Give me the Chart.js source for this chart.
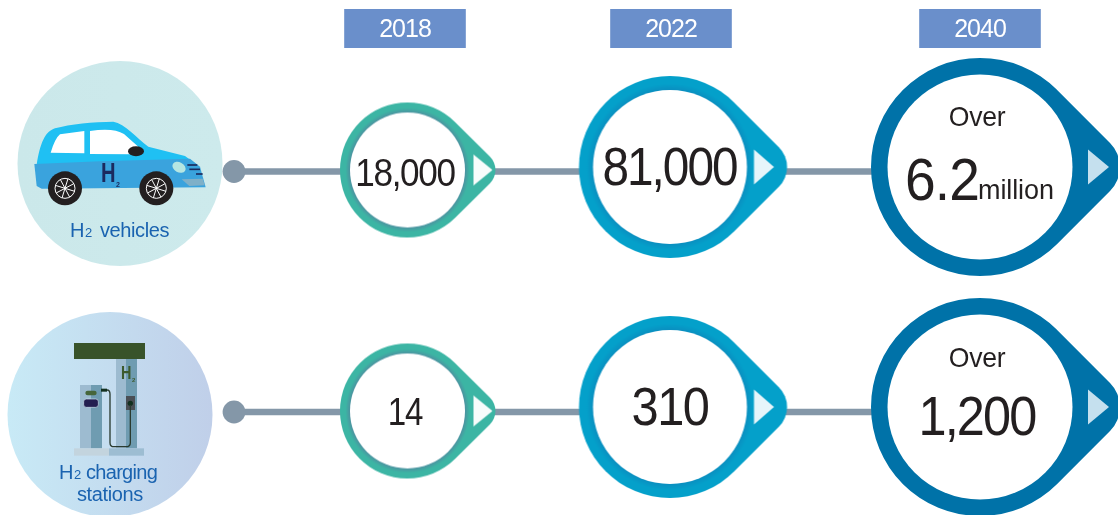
<!DOCTYPE html>
<html>
<head>
<meta charset="utf-8">
<style>
	html, body { margin: 0; padding: 0; background: #fff; }
	canvas { display: block; }
</style>
<script src="https://cdn.jsdelivr.net/npm/chart.js@4/dist/chart.umd.js"></script>
</head>
<body>
<canvas id="chart" width="1118" height="515"></canvas>
<script>
const years = ['2018', '2022', '2040'];
const rowNames = ['H2 vehicles', 'H2 charging stations'];
const vehicles = [18000, 81000, 6200000];
const stations = [14, 310, 1200];
const overFlags = [false, false, true];

// layout only: where the columns sit across the width (start dot, then one per year)
const columnStops = [234, 405, 671, 980].map(px => px / 1118);
const FONT = '"Liberation Sans", Arial, sans-serif';

// custom spacing for the category axis, the years are not evenly spaced
class ColumnScale extends Chart.CategoryScale {
	static id = 'column';
	getPixelForValue(value) {
		const i = typeof value === 'number' ? value : this.parse(value);
		return this.getPixelForDecimal(columnStops[i]);
	}
}
Chart.register(ColumnScale);

function makeRing(s) {
	const tip = s.apex - s.round * 0.414;
	const c = document.createElement('canvas');
	c.width = Math.ceil(2 * (tip + Math.abs(s.dx)) + 6);
	c.height = Math.ceil(2 * (s.outer + Math.abs(s.dy) + 3));
	const g = c.getContext('2d');
	g.translate(c.width / 2 + s.dx, c.height / 2 + s.dy);
	const a = Math.acos(s.outer / s.apex);
	const grad = g.createRadialGradient(0, 0, s.inner, 0, 0, s.outer);
	grad.addColorStop(0, s.edge);
	grad.addColorStop(0.45, s.color);
	grad.addColorStop(1, s.color);
	g.fillStyle = grad;
	g.beginPath();
	g.arc(0, 0, s.outer, a, 2 * Math.PI - a);
	g.arcTo(s.apex, 0, s.outer * Math.cos(a), s.outer * Math.sin(a), s.round);
	g.closePath();
	g.fill();
	g.fillStyle = '#fff';
	g.beginPath();
	g.arc(0, 0, s.inner, 0, 2 * Math.PI);
	g.fill();
	g.fillStyle = s.arrow;
	g.beginPath();
	g.moveTo(s.arrowX, -s.arrowH);
	g.lineTo(s.arrowX + s.arrowW, 0);
	g.lineTo(s.arrowX, s.arrowH);
	g.closePath();
	g.fill();
	return c;
}

const ringStyles = [
	[
		{ outer: 67.5, inner: 57.5, apex: 96, round: 19, dx: 2.5, dy: -1.5, color: '#3cb5a4', edge: '#4c93a0', arrow: '#f7fcfb', arrowX: 66, arrowW: 19, arrowH: 15.5 },
		{ outer: 91, inner: 77, apex: 128.7, round: 28, dx: -1, dy: -4.5, color: '#04a0ca', edge: '#0a8fc0', arrow: '#e6f5fa', arrowX: 84, arrowW: 20, arrowH: 17.5 },
		{ outer: 109, inner: 92.5, apex: 154, round: 34, dx: 0, dy: -4.5, color: '#0072a8', edge: '#0072a8', arrow: '#c5e0ee', arrowX: 108, arrowW: 21, arrowH: 17.5 }
	],
	[
		{ outer: 67.5, inner: 57.5, apex: 96, round: 19, dx: 2.5, dy: -1, color: '#3cb5a4', edge: '#4c93a0', arrow: '#f7fcfb', arrowX: 66, arrowW: 19, arrowH: 15.5 },
		{ outer: 91, inner: 77, apex: 128.7, round: 28, dx: -1, dy: -5, color: '#04a0ca', edge: '#0a8fc0', arrow: '#e6f5fa', arrowX: 84, arrowW: 20, arrowH: 17.5 },
		{ outer: 109, inner: 92.5, apex: 154, round: 34, dx: 0, dy: -5, color: '#0072a8', edge: '#0072a8', arrow: '#c5e0ee', arrowX: 108, arrowW: 21, arrowH: 17.5 }
	]
];

// text sizes inside the rings, per row and year
const textStyles = [
	[
		{ size: 39, squeeze: 0.9, spacing: -1.5, dx: 0, dy: 14.5 },
		{ size: 53, squeeze: 0.9, spacing: -2.2, dx: -1.5, dy: 13.5 },
		{ size: 60, squeeze: 0.92, spacing: -1, dx: 0, dy: 28.5, overDy: -45.5, unitSize: 27 }
	],
	[
		{ size: 39, squeeze: 0.85, spacing: -1.5, dx: 0, dy: 13 },
		{ size: 53, squeeze: 0.92, spacing: -1.5, dx: -1, dy: 13 },
		{ size: 56, squeeze: 0.9, spacing: -2, dx: -3, dy: 23, overDy: -45 }
	]
];

function rowData(row) {
	return ['', ...years].map(x => ({ x, y: row }));
}

function rowDataset(row, r) {
	return {
		data: rowData(row),
		borderColor: '#8497a8',
		borderWidth: 6.5,
		pointRadius: 11.4,
		pointBackgroundColor: '#8497a8',
		pointBorderWidth: 0,
		pointStyle: ['circle', ...ringStyles[r].map(makeRing)],
		tension: 0,
		clip: false
	};
}

function text(ctx, str, x, y, font, color, align, spacing, squeeze) {
	ctx.save();
	ctx.translate(x, y);
	ctx.scale(squeeze || 1, 1);
	ctx.font = font;
	ctx.fillStyle = color;
	ctx.textAlign = align;
	ctx.letterSpacing = (spacing || 0) + 'px';
	ctx.fillText(str, 0, 0);
	ctx.letterSpacing = '0px';
	ctx.restore();
}

function drawCar(ctx) {
	ctx.save();
	ctx.translate(0, 50);
	ctx.scale(1 / 3, 1 / 3);
	ctx.fillStyle = '#1fc0f3';
	ctx.beginPath();
	ctx.moveTo(110, 345);
	ctx.bezierCurveTo(120, 280, 135, 245, 165, 235);
	ctx.bezierCurveTo(210, 222, 280, 216, 340, 215);
	ctx.bezierCurveTo(375, 220, 410, 265, 445, 290);
	ctx.lineTo(555, 318);
	ctx.lineTo(592, 345);
	ctx.closePath();
	ctx.fill();
	ctx.fillStyle = '#3aa3dd';
	ctx.beginPath();
	ctx.moveTo(103, 342);
	ctx.lineTo(300, 334);
	ctx.lineTo(570, 326);
	ctx.lineTo(600, 350);
	ctx.lineTo(617, 412);
	ctx.lineTo(125, 416);
	ctx.lineTo(110, 408);
	ctx.closePath();
	ctx.fill();
	ctx.fillStyle = '#fff';
	ctx.beginPath();
	ctx.moveTo(152, 308);
	ctx.quadraticCurveTo(165, 265, 180, 253);
	ctx.lineTo(253, 243);
	ctx.lineTo(253, 310);
	ctx.closePath();
	ctx.moveTo(270, 243);
	ctx.quadraticCurveTo(340, 232, 372, 252);
	ctx.lineTo(415, 290);
	ctx.lineTo(395, 313);
	ctx.lineTo(270, 312);
	ctx.closePath();
	ctx.fill();
	ctx.fillStyle = '#231f20';
	ctx.beginPath();
	ctx.ellipse(408, 304, 24, 15, 0, 0, 2 * Math.PI);
	ctx.fill();
	// headlight, grille, bumper
	ctx.fillStyle = '#b6e6e2';
	ctx.beginPath();
	ctx.ellipse(537, 352, 21, 15, 0.5, 0, 2 * Math.PI);
	ctx.fill();
	ctx.strokeStyle = '#1b2a5e';
	ctx.lineWidth = 5;
	[[562, 345, 592], [568, 358, 600], [588, 372, 608]].forEach(([a, y, b]) => {
		ctx.beginPath();
		ctx.moveTo(a, y);
		ctx.lineTo(b, y);
		ctx.stroke();
	});
	ctx.fillStyle = '#7fb0c8';
	ctx.beginPath();
	ctx.moveTo(545, 388);
	ctx.lineTo(608, 386);
	ctx.lineTo(614, 406);
	ctx.lineTo(568, 408);
	ctx.closePath();
	ctx.fill();
	// wheels
	[195, 469].forEach(cx => {
		ctx.fillStyle = '#231f20';
		ctx.beginPath();
		ctx.arc(cx, 415, 51, 0, 2 * Math.PI);
		ctx.fill();
		ctx.strokeStyle = '#fff';
		ctx.lineWidth = 3;
		ctx.beginPath();
		ctx.arc(cx, 415, 30, 0, 2 * Math.PI);
		ctx.stroke();
		for (let i = 0; i < 4; i++) {
			const a = i * Math.PI / 4 + 0.3;
			ctx.beginPath();
			ctx.moveTo(cx - 30 * Math.cos(a), 415 - 30 * Math.sin(a));
			ctx.lineTo(cx + 30 * Math.cos(a), 415 + 30 * Math.sin(a));
			ctx.stroke();
		}
	});
	ctx.restore();
	text(ctx, 'H', 101, 182, 'bold 28px ' + FONT, '#1b2a5e', 'left', 0, 0.72);
	text(ctx, '2', 116, 187, 'bold 7px ' + FONT, '#1b2a5e', 'left');
}

function drawStation(ctx) {
	ctx.save();
	ctx.translate(0, 290);
	ctx.scale(1 / 3, 1 / 3);
	const rect = (c, x, y, w, h) => {
		ctx.fillStyle = c;
		ctx.fillRect(x, y, w, h);
	};
	rect('#9dbbd0', 348, 207, 30, 268);
	rect('#6f9cb1', 378, 207, 33, 268);
	rect('#38532a', 222, 159, 213, 48);
	rect('#9dbbd0', 240, 285, 33, 190);
	rect('#6f9cb1', 273, 285, 33, 190);
	rect('#c3d4de', 222, 475, 105, 22);
	rect('#9dbdd2', 327, 475, 105, 22);
	rect('#4a4f55', 378, 318, 27, 42);
	ctx.fillStyle = '#12301f';
	ctx.beginPath();
	ctx.arc(391, 340, 8, 0, 2 * Math.PI);
	ctx.fill();
	ctx.fillStyle = '#46663a';
	ctx.beginPath();
	ctx.roundRect(256, 302, 34, 14, 7);
	ctx.fill();
	ctx.fillStyle = '#231f50';
	ctx.strokeStyle = '#cfe2ee';
	ctx.lineWidth = 2;
	ctx.beginPath();
	ctx.roundRect(251, 327, 44, 25, 8);
	ctx.fill();
	ctx.stroke();
	rect('#12301f', 303, 296, 18, 9);
	ctx.strokeStyle = '#2a3b30';
	ctx.lineWidth = 4;
	ctx.beginPath();
	ctx.moveTo(321, 300);
	ctx.quadraticCurveTo(330, 300, 330, 312);
	ctx.lineTo(330, 458);
	ctx.quadraticCurveTo(330, 470, 342, 470);
	ctx.lineTo(378, 470);
	ctx.quadraticCurveTo(391, 470, 391, 458);
	ctx.lineTo(391, 345);
	ctx.stroke();
	ctx.restore();
	text(ctx, 'H', 121, 379, 'bold 18px ' + FONT, '#3c5a2d', 'left', 0, 0.8);
	text(ctx, '2', 132, 382, 'bold 6px ' + FONT, '#3c5a2d', 'left');
}

function drawBadge(ctx, cx, cy, stops) {
	const g = ctx.createLinearGradient(cx - 102.5, 0, cx + 102.5, 0);
	g.addColorStop(0, stops[0]);
	g.addColorStop(1, stops[1]);
	ctx.fillStyle = g;
	ctx.beginPath();
	ctx.arc(cx, cy, 102.5, 0, 2 * Math.PI);
	ctx.fill();
}

// row name with the small 2 after H, broken into the lines of the picture
function drawRowName(ctx, name, lines) {
	const parts = name.split(' ');
	const blue = '#1a63b0';
	lines.forEach(l => {
		const words = parts.slice(l.from, l.to);
		let str = words.join(' ');
		let x = l.x;
		if (str.startsWith('H2')) {
			text(ctx, 'H', x, l.y, '20px ' + FONT, blue, 'left', -0.3);
			x += 15;
			text(ctx, '2', x, l.y, '13px ' + FONT, blue, 'left');
			x += l.gap;
			str = str.slice(3);
		}
		text(ctx, str, x, l.y, '20px ' + FONT, blue, 'left', l.spacing);
	});
}

const stagePlugin = {
	id: 'stage',
	beforeDraw(chart) {
		chart.ctx.letterSpacing = '-1px';
	},
	beforeDatasetsDraw(chart) {
		const ctx = chart.ctx;
		ctx.letterSpacing = '0px';
		ctx.save();
		ctx.textBaseline = 'alphabetic';
		drawBadge(ctx, 120, 163.5, ['#cbe8ea', '#cdeaec']);
		drawBadge(ctx, 110, 414.5, ['#c8eaf6', '#c0cfe9']);
		drawCar(ctx);
		drawStation(ctx);
		drawRowName(ctx, rowNames[0], [{ from: 0, to: 2, x: 70, y: 237, gap: 15, spacing: -0.4 }]);
		drawRowName(ctx, rowNames[1], [
			{ from: 0, to: 2, x: 59, y: 479, gap: 12, spacing: -0.7 },
			{ from: 2, to: 3, x: 77, y: 501, gap: 0, spacing: -0.4 }
		]);
		ctx.restore();
	},
	afterDatasetsDraw(chart) {
		const ctx = chart.ctx;
		ctx.save();
		ctx.textBaseline = 'alphabetic';
		[vehicles, stations].forEach((values, r) => {
			const points = chart.getDatasetMeta(r).data;
			values.forEach((v, i) => {
				const p = points[i + 1];
				const s = textStyles[r][i];
				const x = p.x + s.dx;
				const y = p.y + s.dy;
				const ink = '#231f20';
				if (overFlags[i]) {
					text(ctx, 'Over', p.x - 3, p.y + s.overDy, '28px ' + FONT, ink, 'center', -0.3, 0.95);
				}
				if (v >= 1e6) {
					const big = String(v / 1e6);
					text(ctx, big, x - 75, y, s.size + 'px ' + FONT, ink, 'left', s.spacing, s.squeeze);
					text(ctx, 'million', x - 2, y - 1, s.unitSize + 'px ' + FONT, ink, 'left', -0.1);
				} else {
					text(ctx, v.toLocaleString('en-US'), x, y, s.size + 'px ' + FONT, ink, 'center', s.spacing, s.squeeze);
				}
			});
		});
		ctx.restore();
	}
};

new Chart(document.getElementById('chart'), {
	type: 'line',
	data: {
		labels: ['', ...years],
		datasets: rowNames.map((name, r) => rowDataset(name, r))
	},
	options: {
		responsive: false,
		animation: false,
		events: [],
		layout: { autoPadding: false, padding: { top: 0, bottom: 103, left: 0, right: 0 } },
		plugins: { legend: { display: false }, tooltip: { enabled: false } },
		scales: {
			x: {
				type: 'column',
				position: 'top',
				border: { display: false },
				grid: { display: false, drawTicks: false },
				// the big tick padding should only lift the year boxes, not eat the width
				afterFit(scale) {
					scale.height = 171.5;
					scale.paddingLeft = 0;
					scale.paddingRight = 0;
				},
				ticks: {
					autoSkip: false,
					maxRotation: 0,
					padding: 126,
					color: '#fff',
					font: { family: FONT, size: 25 },
					showLabelBackdrop: true,
					backdropColor: c => (c.index === 0 ? 'rgba(0,0,0,0)' : '#6a8fcb'),
					backdropPadding: { left: 33, right: 33, top: 6.5, bottom: 2.5 }
				}
			},
			y: {
				type: 'category',
				labels: rowNames,
				display: false
			}
		}
	},
	plugins: [stagePlugin]
});
</script>
</body>
</html>
